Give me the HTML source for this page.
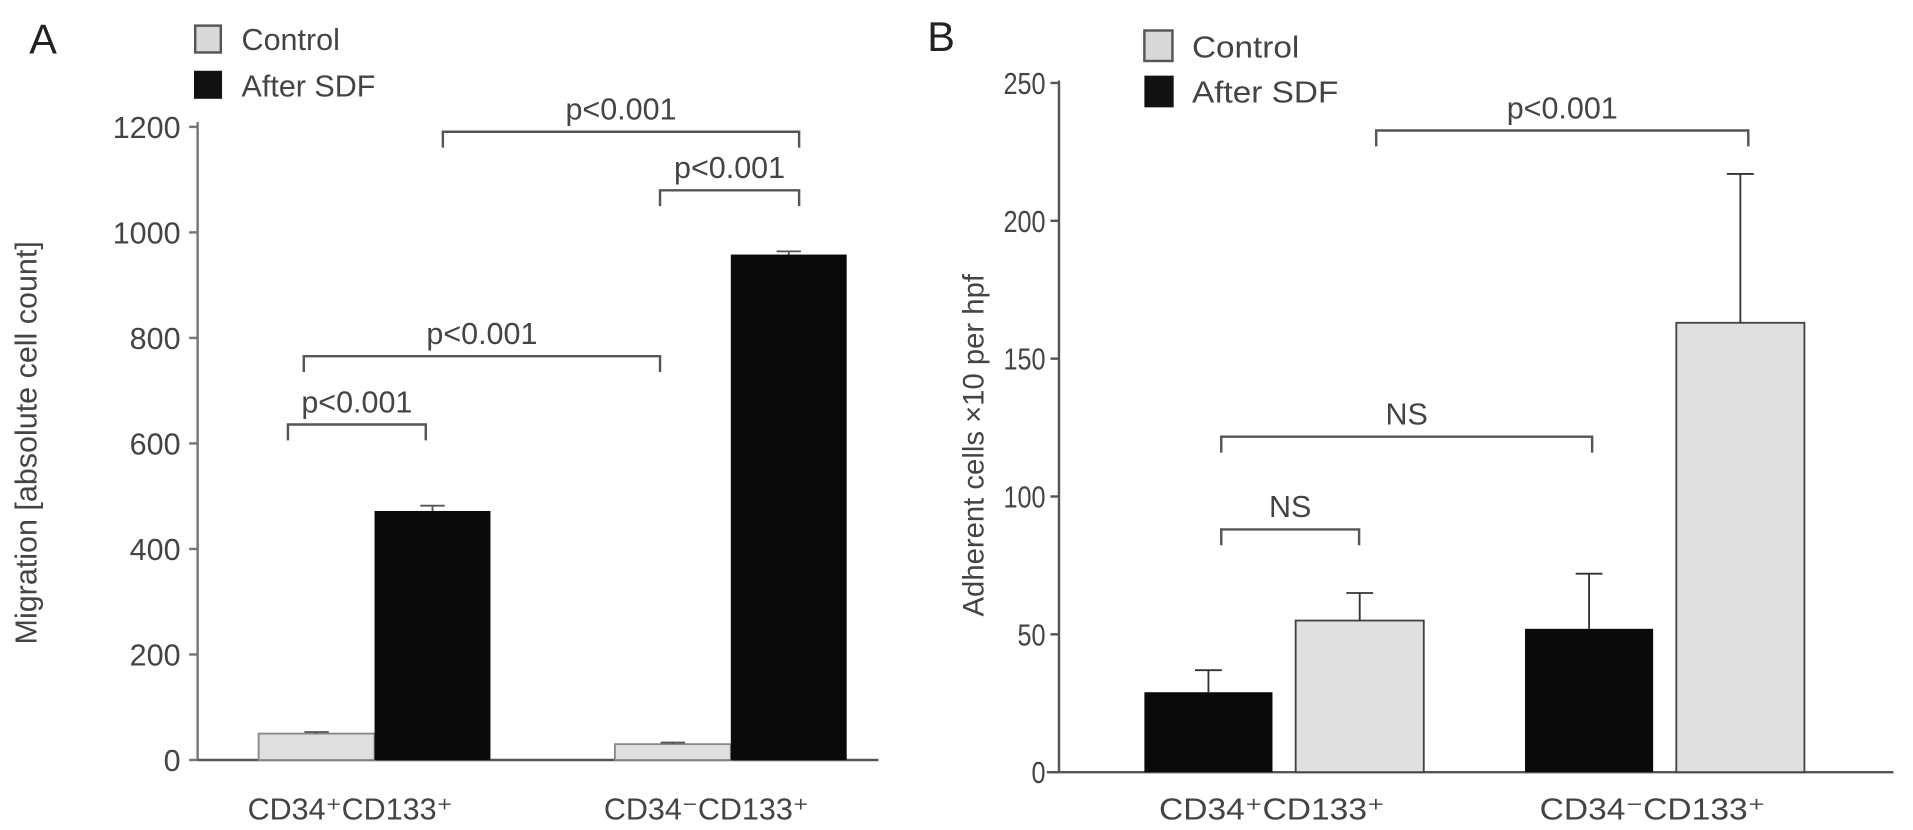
<!DOCTYPE html>
<html><head><meta charset="utf-8"><style>
html,body{margin:0;padding:0;background:#fff;width:1913px;height:830px;overflow:hidden}
svg{display:block;font-family:"Liberation Sans",sans-serif}
</style></head><body>
<svg id="chart" width="1913" height="830" viewBox="0 0 1568 680.4" preserveAspectRatio="none"></svg>
<script>
// Panel A data
const catsA = ["CD34\u207ACD133\u207A", "CD34\u207BCD133\u207A"];
const controlA = [50, 30];
const controlAErr = [3, 3];
const sdfA = [472, 958];
const sdfAErr = [10, 6];
const ticksA = [0, 200, 400, 600, 800, 1000, 1200];
// Panel B data
const catsB = ["CD34\u207ACD133\u207A", "CD34\u207BCD133\u207A"];
const sdfB = [29, 52];
const sdfBErr = [8, 20];
const controlB = [55, 163];
const controlBErr = [10, 54];
const ticksB = [0, 50, 100, 150, 200, 250];

const NS = "http://www.w3.org/2000/svg";
const svg = document.getElementById('chart');
function mk(tag, attrs, parent, text) {
  const e = document.createElementNS(NS, tag);
  for (const k in attrs) e.setAttribute(k, attrs[k]);
  if (text !== undefined) e.textContent = text;
  (parent || svg).appendChild(e);
  return e;
}
const TXT = "#444";

// ---------- Panel A ----------
const gA = mk('g', {});


const yA = v => 623 - v / 1200 * (623 - 104);
let t = mk('text', {x: 24, y: 44, 'font-size': 34, fill: '#222'}, gA, 'A');


let ax = mk('line', {x1: 162, y1: 100, x2: 162, y2: 623, stroke: '#777', 'stroke-width': 2}, gA);


let bl = mk('line', {x1: 162, y1: 623, x2: 720, y2: 623, stroke: '#555', 'stroke-width': 2}, gA);


ticksA.forEach(v => {
  const tk = mk('line', {x1: 155, y1: yA(v), x2: 162, y2: yA(v), stroke: '#777', 'stroke-width': 2}, gA);
  
  
  const tl = mk('text', {x: 148, y: yA(v) + 9, 'font-size': 25, fill: TXT, 'text-anchor': 'end'}, gA, String(v));
  
  
});
t = mk('text', {x: 0, y: 0, 'font-size': 25, fill: TXT, 'text-anchor': 'middle', transform: 'translate(30,363) rotate(-90)'}, gA, 'Migration [absolute cell count]');


const groupXA = [212, 504];
const bwA = 95;
catsA.forEach((c, i) => {
  const x0 = groupXA[i];
  const r1 = mk('rect', {x: x0, y: yA(controlA[i]), width: bwA, height: yA(0) - yA(controlA[i]), fill: '#e0e0e0', stroke: '#888', 'stroke-width': 1.5}, gA);
  
  
  const e1 = mk('path', {d: `M${x0+bwA/2},${yA(controlA[i])}V${yA(controlA[i]+controlAErr[i])}M${x0+bwA/2-10},${yA(controlA[i]+controlAErr[i])}h20`, stroke: '#555', 'stroke-width': 1.5, fill: 'none'}, gA);
  
  
  const r2 = mk('rect', {x: x0 + bwA, y: yA(sdfA[i]), width: bwA, height: yA(0) - yA(sdfA[i]), fill: '#0a0a0a'}, gA);
  
  
  const e2 = mk('path', {d: `M${x0+bwA*1.5},${yA(sdfA[i])}V${yA(sdfA[i]+sdfAErr[i])}M${x0+bwA*1.5-10},${yA(sdfA[i]+sdfAErr[i])}h20`, stroke: '#555', 'stroke-width': 1.5, fill: 'none'}, gA);
  
  
  const xl = mk('text', {x: x0 + bwA - 20, y: 672, 'font-size': 25, fill: TXT, 'text-anchor': 'middle'}, gA, c);
  
  
});
function bracket(g, x1, x2, y, label, name) {
  const p = mk('path', {d: `M${x1},${y+13}V${y}H${x2}V${y+13}`, stroke: '#555', 'stroke-width': 2, fill: 'none'}, g);
  
  
  const tx = mk('text', {x: (x1 + x2) / 2, y: y - 10, 'font-size': 25, fill: TXT, 'text-anchor': 'middle'}, g, label);
  
  
}
bracket(gA, 236, 349, 348, 'p<0.001', 'bracket-a-1');
bracket(gA, 249, 541, 292, 'p<0.001', 'bracket-a-2');
bracket(gA, 541, 655, 156, 'p<0.001', 'bracket-a-3');
bracket(gA, 363, 655, 108, 'p<0.001', 'bracket-a-4');
// legend A
let lg = mk('g', {}, gA);


let lb = mk('rect', {x: 160, y: 21, width: 21, height: 22, fill: '#d8d8d8', stroke: '#555', 'stroke-width': 2}, lg);


lb = mk('rect', {x: 159, y: 58, width: 23, height: 23, fill: '#111'}, lg);


t = mk('text', {x: 198, y: 41, 'font-size': 25, fill: TXT}, lg, 'Control');


t = mk('text', {x: 198, y: 79, 'font-size': 25, fill: TXT}, lg, 'After SDF');



// ---------- Panel B ----------
const gB = mk('g', {});


const yB = v => 633 - v / 250 * (633 - 68);
t = mk('text', {x: 760, y: 42, 'font-size': 34, fill: '#222'}, gB, 'B');


ax = mk('line', {x1: 868, y1: 66, x2: 868, y2: 633, stroke: '#555', 'stroke-width': 2}, gB);


bl = mk('line', {x1: 858, y1: 633, x2: 1552, y2: 633, stroke: '#555', 'stroke-width': 2}, gB);


ticksB.forEach(v => {
  const tk = mk('line', {x1: 861, y1: yB(v), x2: 868, y2: yB(v), stroke: '#555', 'stroke-width': 2}, gB);
  
  
  const tl = mk('text', {x: 857, y: yB(v) + 9, 'font-size': 25, fill: TXT, 'text-anchor': 'end', textLength: String(v).length * 11.5, lengthAdjust: 'spacingAndGlyphs'}, gB, String(v));
  
  
});
t = mk('text', {x: 0, y: 0, 'font-size': 24, fill: TXT, 'text-anchor': 'middle', transform: 'translate(806,365) rotate(-90)'}, gB, 'Adherent cells \u00D710 per hpf');


const groupXB = [938, 1250];
const bwB = 105, gapB = 19;
catsB.forEach((c, i) => {
  const x0 = groupXB[i];
  const r1 = mk('rect', {x: x0, y: yB(sdfB[i]), width: bwB, height: yB(0) - yB(sdfB[i]), fill: '#0a0a0a'}, gB);
  
  
  const e1 = mk('path', {d: `M${x0+bwB/2},${yB(sdfB[i])}V${yB(sdfB[i]+sdfBErr[i])}M${x0+bwB/2-11},${yB(sdfB[i]+sdfBErr[i])}h22`, stroke: '#333', 'stroke-width': 1.5, fill: 'none'}, gB);
  
  
  const x1 = x0 + bwB + gapB;
  const r2 = mk('rect', {x: x1, y: yB(controlB[i]), width: bwB, height: yB(0) - yB(controlB[i]), fill: '#e0e0e0', stroke: '#444', 'stroke-width': 1.5}, gB);
  
  
  const e2 = mk('path', {d: `M${x1+bwB/2},${yB(controlB[i])}V${yB(controlB[i]+controlBErr[i])}M${x1+bwB/2-11},${yB(controlB[i]+controlBErr[i])}h22`, stroke: '#333', 'stroke-width': 1.5, fill: 'none'}, gB);
  
  
  const xl = mk('text', {x: x0 + bwB + gapB / 2 - 10, y: 672, 'font-size': 25, fill: TXT, 'text-anchor': 'middle', textLength: 185, lengthAdjust: 'spacingAndGlyphs'}, gB, c);
  
  
});
bracket(gB, 1001, 1114, 434, 'NS', 'bracket-b-1');
bracket(gB, 1001, 1305, 358, 'NS', 'bracket-b-2');
bracket(gB, 1128, 1433, 107, 'p<0.001', 'bracket-b-3');
lg = mk('g', {}, gB);


lb = mk('rect', {x: 938, y: 25, width: 23, height: 25, fill: '#d8d8d8', stroke: '#555', 'stroke-width': 2}, lg);


lb = mk('rect', {x: 938, y: 62, width: 24, height: 26, fill: '#111'}, lg);


t = mk('text', {x: 977, y: 47, 'font-size': 25, fill: TXT, textLength: 88, lengthAdjust: 'spacingAndGlyphs'}, lg, 'Control');


t = mk('text', {x: 977, y: 84, 'font-size': 25, fill: TXT, textLength: 120, lengthAdjust: 'spacingAndGlyphs'}, lg, 'After SDF');


</script>
</body></html>
